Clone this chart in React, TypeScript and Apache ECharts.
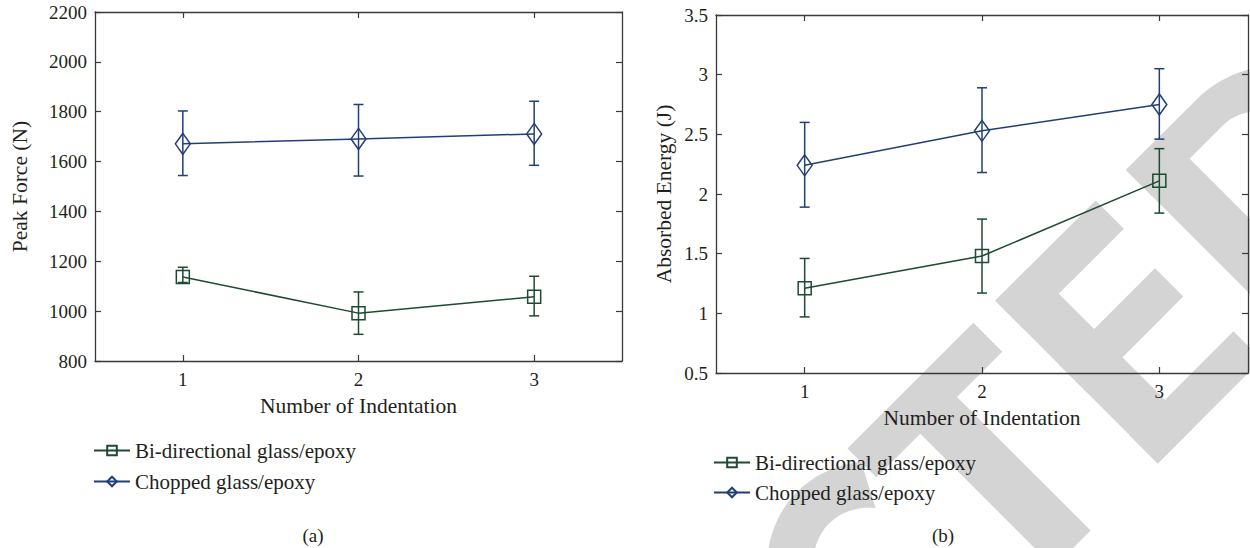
import React, { useEffect, useRef } from "react";
import * as echarts from "echarts";

const categories = ["1", "2", "3"];
const seriesNames = ["Bi-directional glass/epoxy", "Chopped glass/epoxy"];

const forceBi = [1137, 992, 1058];
const forceBiLow = [1115, 907, 981];
const forceBiHigh = [1176, 1077, 1140];
const forceChop = [1671, 1691, 1711];
const forceChopLow = [1544, 1542, 1585];
const forceChopHigh = [1803, 1829, 1842];

const energyBi = [1.21, 1.48, 2.11];
const energyBiLow = [0.97, 1.17, 1.84];
const energyBiHigh = [1.46, 1.79, 2.38];
const energyChop = [2.24, 2.53, 2.75];
const energyChopLow = [1.89, 2.18, 2.46];
const energyChopHigh = [2.6, 2.89, 3.05];

const GREEN = "#1e4a30";
const BLUE = "#213f74";
const AXIS = "#3a3a3a";
const TEXT = "#231f20";
const WM = "#d4d4d4";
const SERIF = "'Liberation Serif', 'Times New Roman', 'DejaVu Serif', serif";

function errData(low: number[], high: number[]) {
  return categories.map((_, i) => [i, high[i], low[i]]);
}

function errSeries(name: string, color: string, low: number[], high: number[], gi: number) {
  return {
    type: "custom",
    name,
    xAxisIndex: gi * 2,
    yAxisIndex: gi * 2,
    z: 3,
    silent: true,
    encode: { x: 0, y: [1, 2] },
    data: errData(low, high),
    renderItem: (params: any, api: any) => {
      const x = api.value(0);
      const hi = api.coord([x, api.value(1)]);
      const lo = api.coord([x, api.value(2)]);
      const w = 5;
      const st = { stroke: color, lineWidth: 1.5, fill: "none" };
      return {
        type: "group",
        children: [
          { type: "line", shape: { x1: hi[0], y1: hi[1], x2: lo[0], y2: lo[1] }, style: st },
          { type: "line", shape: { x1: hi[0] - w, y1: hi[1], x2: hi[0] + w, y2: hi[1] }, style: st },
          { type: "line", shape: { x1: lo[0] - w, y1: lo[1], x2: lo[0] + w, y2: lo[1] }, style: st },
        ],
      };
    },
  };
}

function lineSeries(name: string, color: string, data: number[], symbol: string, size: any, gi: number) {
  return {
    type: "line",
    name,
    xAxisIndex: gi * 2,
    yAxisIndex: gi * 2,
    z: 4,
    data,
    color,
    symbol,
    symbolSize: size,
    showSymbol: true,
    lineStyle: { color, width: 1.5 },
    itemStyle: { color: "rgba(255,255,255,0)", borderColor: color, borderWidth: 1.5 },
  };
}

function xAxes(gi: number) {
  const base = {
    type: "category",
    gridIndex: gi,
    data: categories,
    boundaryGap: true,
    axisLine: { show: true, lineStyle: { color: AXIS, width: 1.3 } },
    axisTick: { show: true, inside: true, alignWithLabel: true, length: 6, lineStyle: { color: AXIS, width: 1.2 } },
    splitLine: { show: false },
  };
  return [
    {
      ...base,
      position: "bottom",
      name: "Number of Indentation",
      nameLocation: "middle",
      nameGap: 34,
      nameTextStyle: { fontFamily: SERIF, fontSize: 21.5, color: TEXT },
      axisLabel: { fontFamily: SERIF, fontSize: 19, color: TEXT, margin: 9 },
    },
    { ...base, position: "top", axisLabel: { show: false } },
  ];
}

function yAxes(gi: number, min: number, max: number, interval: number, title: string, gap: number) {
  const base = {
    type: "value",
    gridIndex: gi,
    min,
    max,
    interval,
    axisLine: { show: true, lineStyle: { color: AXIS, width: 1.3 } },
    axisTick: { show: true, inside: true, length: 6, lineStyle: { color: AXIS, width: 1.2 } },
    splitLine: { show: false },
  };
  return [
    {
      ...base,
      position: "left",
      name: title,
      nameLocation: "middle",
      nameGap: gap,
      nameTextStyle: { fontFamily: SERIF, fontSize: 21.5, color: TEXT },
      axisLabel: { fontFamily: SERIF, fontSize: 19, color: TEXT, margin: 8, formatter: (v: number) => String(v) },
    },
    { ...base, position: "right", axisLabel: { show: false } },
  ];
}

function arcPts(cx: number, cy: number, a: number, b: number, t0: number, t1: number, n: number) {
  const pts: number[][] = [];
  for (let i = 0; i <= n; i++) {
    const t = ((t0 + ((t1 - t0) * i) / n) * Math.PI) / 180;
    pts.push([cx + a * Math.cos(t), cy + b * Math.sin(t)]);
  }
  return pts;
}

function watermark() {
  const r = (x: number, y: number, w: number, h: number) => ({
    type: "rect",
    z: -100,
    silent: true,
    shape: { x, y, width: w, height: h },
    style: { fill: WM },
  });
  const poly = (points: number[][]) => ({
    type: "polygon",
    z: -100,
    silent: true,
    shape: { points },
    style: { fill: WM },
  });
  const cShape = [
    ...arcPts(-460, 115, 110, 120, -53, -307, 60),
    ...arcPts(-460, 115, 62, 75, -300, -45, 60),
  ];
  const dBowl = [
    ...arcPts(100, 115, 115, 115, -90, 90, 50),
    ...arcPts(100, 115, 60, 78, 90, -90, 50),
  ];
  return {
    type: "group",
    x: 1126,
    y: 170,
    rotation: Math.PI / 4,
    z: -100,
    silent: true,
    children: [
      poly(cShape),
      r(-394, 0, 178, 41),
      r(-332, 35, 52, 195),
      r(-185, 0, 50, 230),
      r(-185, 0, 142, 40),
      r(-185, 90, 136, 40),
      r(-185, 190, 147, 40),
      r(0, 0, 53, 230),
      r(0, 0, 102, 37),
      r(0, 193, 102, 37),
      poly(dBowl),
    ],
  };
}

export default function App() {
  const ref = useRef<HTMLDivElement>(null);
  useEffect(() => {
    document.body.style.margin = "0";
    const chart = echarts.init(ref.current!, undefined, { renderer: "svg" });
    const option: any = {
      animation: false,
      backgroundColor: "#ffffff",
      grid: [
        { left: 95, top: 12, width: 527, height: 349 },
        { left: 716, top: 15, width: 532, height: 358 },
      ],
      xAxis: [...xAxes(0), ...xAxes(1)],
      yAxis: [
        ...yAxes(0, 800, 2200, 200, "Peak Force (N)", 64),
        ...yAxes(1, 0.5, 3.5, 0.5, "Absorbed Energy (J)", 41),
      ],
      legend: [
        {
          left: 93,
          top: 440,
          padding: 0,
          orient: "vertical",
          itemWidth: 36,
          itemHeight: 12,
          itemGap: 10,
          data: seriesNames,
          textStyle: { fontFamily: SERIF, fontSize: 21, color: TEXT },
        },
        {
          left: 713,
          top: 452,
          padding: 0,
          orient: "vertical",
          itemWidth: 36,
          itemHeight: 12,
          itemGap: 9,
          data: seriesNames,
          textStyle: { fontFamily: SERIF, fontSize: 21, color: TEXT },
        },
      ],
      graphic: [
        watermark(),
        {
          type: "text",
          x: 313,
          y: 535,
          style: { text: "(a)", fontFamily: SERIF, fontSize: 19, fill: TEXT, align: "center", verticalAlign: "middle" },
        },
        {
          type: "text",
          x: 943,
          y: 535,
          style: { text: "(b)", fontFamily: SERIF, fontSize: 19, fill: TEXT, align: "center", verticalAlign: "middle" },
        },
      ],
      series: [
        errSeries("eb0", GREEN, forceBiLow, forceBiHigh, 0),
        errSeries("ec0", BLUE, forceChopLow, forceChopHigh, 0),
        lineSeries(seriesNames[0], GREEN, forceBi, "rect", 13, 0),
        lineSeries(seriesNames[1], BLUE, forceChop, "diamond", [15, 21], 0),
        errSeries("eb1", GREEN, energyBiLow, energyBiHigh, 1),
        errSeries("ec1", BLUE, energyChopLow, energyChopHigh, 1),
        lineSeries(seriesNames[0], GREEN, energyBi, "rect", 13, 1),
        lineSeries(seriesNames[1], BLUE, energyChop, "diamond", [15, 21], 1),
      ],
    };
    chart.setOption(option);
    return () => chart.dispose();
  }, []);
  return <div ref={ref} style={{ width: 1250, height: 548 }} />;
}
